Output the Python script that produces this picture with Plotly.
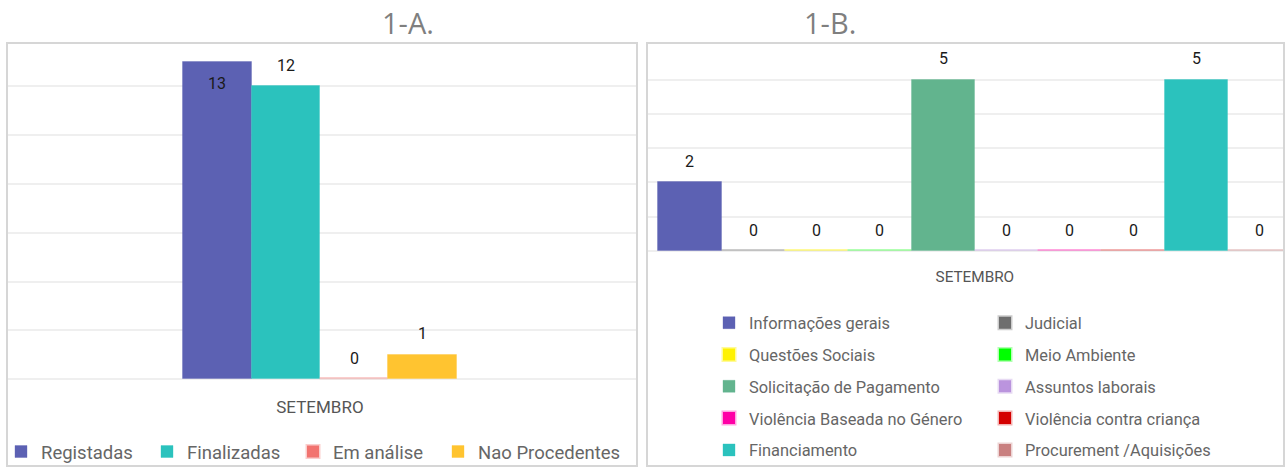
import plotly.graph_objects as go

W, H = 1286, 468

# ---------------- data ----------------
month = ["SETEMBRO"]

a_series = ["Registadas", "Finalizadas", "Em análise", "Nao Procedentes"]
a_values = [13, 12, 0, 1]
a_colors = ["#5c61b3", "#2bc2bd", "#f2736f", "#ffc430"]
a_pale = ["rgba(92,97,179,0.35)", "rgba(43,194,189,0.35)", "rgba(242,115,111,0.35)", "rgba(255,196,48,0.35)"]

b_series = ["Informações gerais", "Judicial", "Questões Sociais", "Meio Ambiente",
            "Solicitação de Pagamento", "Assuntos laborais", "Violência Baseada no Género",
            "Violência contra criança", "Financiamento", "Procurement /Aquisições"]
b_values = [2, 0, 0, 0, 5, 0, 0, 0, 5, 0]
b_colors = ["#5c61b3", "#6e6e6e", "#fff200", "#00ff00", "#62b48e",
            "#bb94de", "#ff00a6", "#d40000", "#2bc2bd", "#c98080"]
b_pale = ["rgba(92,97,179,0.35)", "rgba(110,110,110,0.35)", "rgba(255,242,0,0.4)", "rgba(0,255,0,0.3)",
          "rgba(98,180,142,0.35)", "rgba(187,148,222,0.35)", "rgba(255,0,166,0.35)",
          "rgba(212,0,0,0.3)", "rgba(43,194,189,0.35)", "rgba(201,128,128,0.35)"]

FONT = "Roboto, 'Noto Sans', sans-serif"
LABEL_COLOR = "#1a1a1a"
TEXT_GRAY = "#666666"

def px_x(p):
    return p / W

def px_y(p):
    return (H - p) / H

fig = go.Figure()

# ---------------- 1-A bars ----------------
for i, (name, v, c, pc) in enumerate(zip(a_series, a_values, a_colors, a_pale)):
    fig.add_trace(go.Bar(
        x=month, y=[v], name=name, xaxis="x", yaxis="y",
        marker=dict(color=c, line=dict(color=pc, width=3 if v == 0 else 1)),
        legend="legend" if i < 3 else "legend4", hoverinfo="name+y",
    ))

# ---------------- 1-B bars ----------------
for i, (name, v, c, pc) in enumerate(zip(b_series, b_values, b_colors, b_pale)):
    fig.add_trace(go.Bar(
        x=month, y=[v], name=name, xaxis="x2", yaxis="y2",
        marker=dict(color=c, line=dict(color=pc, width=3 if v == 0 else 1)),
        legend="legend2" if i % 2 == 0 else "legend3",
        legendgroup=name, hoverinfo="name+y",
    ))

# ---------------- value labels (placed via axis scales) ----------------
def add_labels(values, xref, yref, top_value):
    n = len(values)
    for i, v in enumerate(values):
        xc = -0.5 + (i + 0.5) / n
        inside = v >= top_value
        fig.add_annotation(
            x=xc, y=v, xref=xref, yref=yref, text=str(v), showarrow=False,
            yshift=-21 if inside else 21,
            font=dict(family=FONT, size=16, color=LABEL_COLOR),
        )

add_labels(a_values, "x", "y", 13)
add_labels(b_values, "x2", "y2", 99)

# ---------------- panel frames ----------------
frame = dict(type="rect", xref="paper", yref="paper",
             line=dict(color="#d6d6d6", width=2), fillcolor="rgba(0,0,0,0)", layer="above")
fig.add_shape(**frame, x0=px_x(7), x1=px_x(637), y0=px_y(466), y1=px_y(43))
fig.add_shape(**frame, x0=px_x(647), x1=px_x(1284), y0=px_y(466), y1=px_y(43))

# ---------------- titles ----------------
for t, xc in [("1-A.", 408), ("1-B.", 830)]:
    fig.add_annotation(text=t, x=px_x(xc), y=px_y(22), xref="paper", yref="paper",
                       showarrow=False, xanchor="center", yanchor="middle",
                       font=dict(family="'Open Sans', sans-serif", size=29, color="#7f7f7f"))

grid = "#efefef"
left_leg_font = dict(family=FONT, size=18.5, color=TEXT_GRAY)
right_leg_font = dict(family=FONT, size=16.4, color=TEXT_GRAY)

fig.update_layout(
    width=W, height=H,
    margin=dict(l=0, r=0, t=0, b=0, autoexpand=False),
    paper_bgcolor="white", plot_bgcolor="white",
    barmode="group", bargap=0, bargroupgap=0,
    font=dict(family=FONT),
    xaxis=dict(domain=[px_x(8), px_x(636)], type="category",
               range=[-1.1414, 1.1564], showgrid=False, zeroline=False,
               showline=False, ticks="", ticklabelstandoff=16,
               tickfont=dict(family=FONT, size=17, color="#555555")),
    yaxis=dict(domain=[px_y(379.3), px_y(43)], range=[0, 13.78], dtick=2,
               showticklabels=False, gridcolor=grid, gridwidth=1.5,
               zeroline=True, zerolinecolor=grid, zerolinewidth=1.5),
    xaxis2=dict(domain=[px_x(647), px_x(1283)], type="category", anchor="y2",
                range=[-0.5179, 0.4868], showgrid=False, zeroline=False,
                showline=False, ticks="", ticklabelstandoff=15,
                tickfont=dict(family=FONT, size=15.3, color="#555555")),
    yaxis2=dict(domain=[px_y(251), px_y(47)], range=[0, 5.95], dtick=1, anchor="x2",
                showticklabels=False, gridcolor=grid, gridwidth=1.5,
                zeroline=True, zerolinecolor=grid, zerolinewidth=1.5),
    legend=dict(orientation="h", x=px_x(1), y=px_y(452), xanchor="left", yanchor="middle",
                font=left_leg_font, entrywidth=101, bgcolor="rgba(0,0,0,0)"),
    legend4=dict(orientation="h", x=px_x(438), y=px_y(452), xanchor="left", yanchor="middle",
                 font=left_leg_font, bgcolor="rgba(0,0,0,0)"),
    legend2=dict(orientation="v", x=px_x(709), y=px_y(305.5), xanchor="left", yanchor="top",
                 font=right_leg_font, tracegroupgap=7.5, bgcolor="rgba(0,0,0,0)"),
    legend3=dict(orientation="v", x=px_x(985), y=px_y(305.5), xanchor="left", yanchor="top",
                 font=right_leg_font, tracegroupgap=7.5, bgcolor="rgba(0,0,0,0)"),
    showlegend=True,
)

fig.write_html("out.html", config={"displayModeBar": False},
               post_script="document.body.style.margin='0';")
